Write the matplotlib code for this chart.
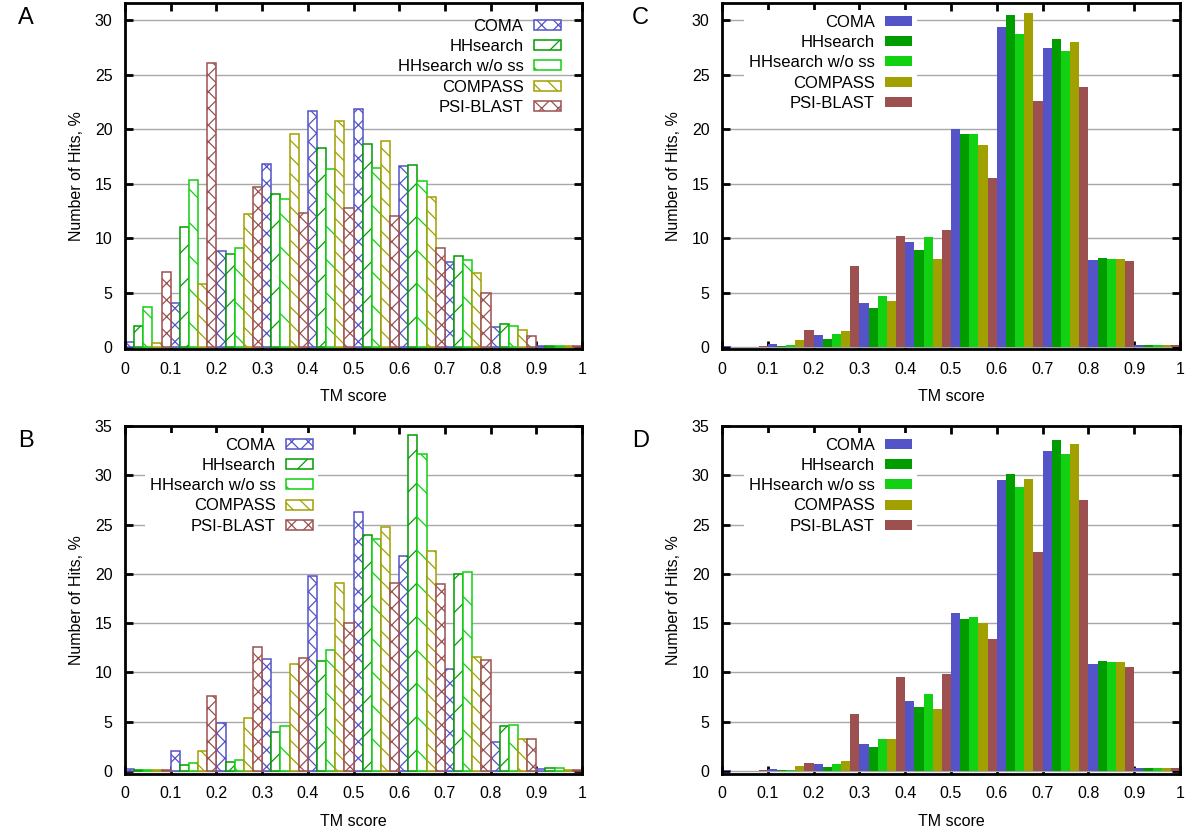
import numpy as np
import matplotlib.pyplot as plt

plt.rcParams['font.family'] = ['Liberation Sans', 'DejaVu Sans']
plt.rcParams['hatch.linewidth'] = 0.9

# methods and styles
methods = ['COMA', 'HHsearch', 'HHsearch w/o ss', 'COMPASS', 'PSI-BLAST']
colors = ['#5454c8', '#009c00', '#12d012', '#a0a000', '#9c5050']
hatches = ['xx', '/', '\\', '\\\\', 'xx']

# TM score bins (left edge), width 0.1
bin_left = [0.0, 0.1, 0.2, 0.3, 0.4, 0.5, 0.6, 0.7, 0.8, 0.9]
xtick_vals = [0, 0.1, 0.2, 0.3, 0.4, 0.5, 0.6, 0.7, 0.8, 0.9, 1]
xtick_labels = ['0', '0.1', '0.2', '0.3', '0.4', '0.5', '0.6', '0.7', '0.8', '0.9', '1']

# number of hits, % (COMA, HHsearch, HHsearch w/o ss, COMPASS, PSI-BLAST)
vals_a = [
    [0.45, 4.1, 8.8, 16.8, 21.7, 21.9, 16.6, 7.8, 1.9, 0.1],
    [2.0, 11.0, 8.6, 14.1, 18.3, 18.7, 16.7, 8.4, 2.1, 0.1],
    [3.7, 15.4, 9.1, 13.6, 16.4, 16.5, 15.3, 8.0, 2.0, 0.1],
    [0.4, 5.8, 12.2, 19.6, 20.8, 18.9, 13.8, 6.8, 1.6, 0.1],
    [6.9, 26.1, 14.7, 12.3, 12.8, 12.1, 9.1, 5.0, 1.0, 0.1],
]
vals_b = [
    [0.2, 2.0, 4.9, 11.4, 19.8, 26.3, 21.8, 10.4, 2.9, 0.2],
    [0.1, 0.6, 0.95, 4.0, 11.2, 23.9, 34.1, 20.0, 4.6, 0.3],
    [0.1, 0.8, 1.1, 4.6, 12.3, 23.5, 32.2, 20.2, 4.7, 0.35],
    [0.1, 2.0, 5.4, 10.9, 19.1, 24.8, 22.3, 11.6, 3.3, 0.15],
    [0.1, 7.6, 12.6, 11.5, 15.0, 19.1, 19.0, 11.3, 3.3, 0.1],
]
vals_c = [
    [0.15, 0.3, 1.1, 4.1, 9.7, 20.0, 29.4, 27.5, 8.05, 0.2],
    [0.05, 0.1, 0.8, 3.6, 8.9, 19.6, 30.5, 28.3, 8.2, 0.2],
    [0.05, 0.25, 1.2, 4.7, 10.1, 19.6, 28.8, 27.2, 8.15, 0.2],
    [0.05, 0.65, 1.5, 4.25, 8.1, 18.6, 30.7, 28.0, 8.15, 0.2],
    [0.1, 1.6, 7.5, 10.2, 10.8, 15.5, 22.6, 23.9, 7.9, 0.25],
]
vals_d = [
    [0.1, 0.2, 0.7, 2.7, 7.1, 16.0, 29.5, 32.5, 10.9, 0.35],
    [0.05, 0.1, 0.45, 2.4, 6.5, 15.4, 30.1, 33.6, 11.2, 0.35],
    [0.05, 0.1, 0.75, 3.25, 7.8, 15.6, 28.8, 32.2, 11.1, 0.35],
    [0.05, 0.5, 1.05, 3.2, 6.3, 15.0, 29.6, 33.2, 11.1, 0.35],
    [0.1, 0.85, 5.8, 9.5, 9.8, 13.4, 22.2, 27.5, 10.6, 0.35],
]

W, H = 1200, 833
fig = plt.figure(figsize=(W / 100, H / 100), dpi=100)

def px(x0, y0, x1, y1):
    # pixel box -> figure fraction rect
    return [x0 / W, 1 - y1 / H, (x1 - x0) / W, (y1 - y0) / H]

panels = [
    ('A', vals_a, True, px(125, 3, 582, 349), (-0.15, 31.6), 30, (566, 14), (18, 24)),
    ('C', vals_c, False, px(722, 3, 1180, 349), (-0.15, 31.6), 30, (917, 10), (632, 24)),
    ('B', vals_b, True, px(125, 426, 582, 774), (-0.3, 35), 35, (318, 433), (18, 447)),
    ('D', vals_d, False, px(722, 426, 1180, 774), (-0.3, 35), 35, (917, 433), (632, 447)),
]

bw = 0.02
for letter, vals, hatched, rect, ylim, ymax, leg_xy, let_xy in panels:
    ax = fig.add_axes(rect)
    handles = []
    for k in range(5):
        x = np.array(bin_left) + k * bw
        if hatched:
            b = ax.bar(x, vals[k], width=bw, align='edge', facecolor='white',
                       edgecolor=colors[k], hatch=hatches[k], linewidth=1.1)
        else:
            b = ax.bar(x, vals[k], width=bw, align='edge', color=colors[k],
                       linewidth=0)
        handles.append(b)
    ax.set_xlim(0, 1)
    ax.set_ylim(*ylim)
    ax.set_xticks(xtick_vals)
    ax.set_xticklabels(xtick_labels)
    ax.set_yticks(np.arange(0, ymax + 1, 5))
    ax.tick_params(direction='in', top=True, right=True, length=6, width=2,
                   labelsize=11.5, pad=9)
    for s in ax.spines.values():
        s.set_linewidth(2)
    ax.yaxis.grid(True, color='#a8a8a8', linewidth=1)
    ax.set_axisbelow(True)
    ax.set_xlabel('TM score', fontsize=11.5, labelpad=9)
    ax.set_ylabel('Number of Hits, %', fontsize=11.5, labelpad=8)

    leg = ax.legend(handles, methods, loc='upper right',
                    bbox_to_anchor=(leg_xy[0] / W, 1 - leg_xy[1] / H),
                    bbox_transform=fig.transFigure, markerfirst=False,
                    fancybox=False, fontsize=12, handlelength=1.65,
                    handleheight=0.55, labelspacing=0.31, handletextpad=0.6,
                    borderpad=0.3, borderaxespad=0)
    leg.get_frame().set_edgecolor('none')
    leg.get_frame().set_facecolor('white')
    leg.get_frame().set_alpha(0 if letter == 'A' else 1)

    fig.text(let_xy[0] / W, 1 - let_xy[1] / H, letter, fontsize=17,
             ha='left', va='baseline')

fig.savefig('out.png', dpi=100)
